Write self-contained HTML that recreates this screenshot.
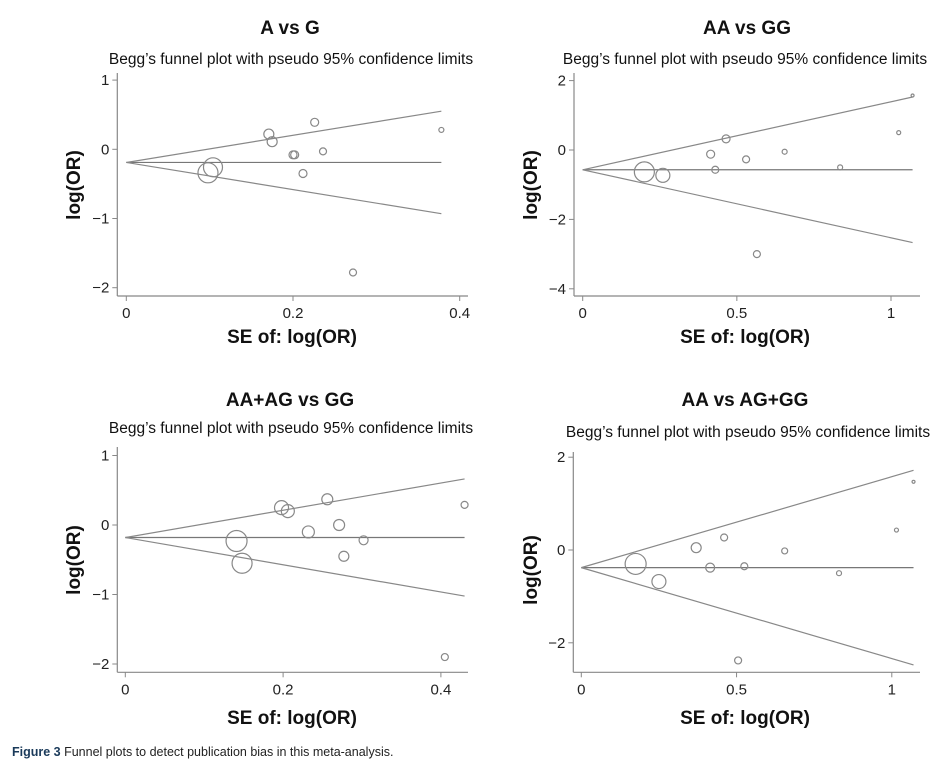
<!DOCTYPE html>
<html><head><meta charset="utf-8"><style>
body{margin:0;background:#fff;width:943px;height:764px;overflow:hidden;font-family:"Liberation Sans",Arial,sans-serif}
svg{display:block}
</style></head><body>
<svg id="fig" width="943" height="764" xmlns="http://www.w3.org/2000/svg" font-family="Liberation Sans, Arial, sans-serif">
<text x="12" y="756" font-size="12.5" fill="#222"><tspan font-weight="bold" fill="#1a3a5a">Figure 3</tspan> Funnel plots to detect publication bias in this meta-analysis.</text>
</svg>
<script>
// Panel A: A vs G
const aSE  = [0.098,0.104,0.171,0.175,0.200,0.202,0.212,0.226,0.236,0.272,0.378];
const aLOR = [-0.34,-0.26,0.22,0.11,-0.08,-0.08,-0.35,0.39,-0.03,-1.78,0.28];
const aWeight = [10,9.5,5,5,4,4,4,4,3.5,3.5,2.5];
const aPooled = -0.19;
const aXTicks = [0,0.2,0.4];
const aYTicks = [1,0,-1,-2];
// Panel B: AA vs GG
const bSE  = [0.20,0.26,0.415,0.43,0.465,0.53,0.565,0.655,0.835,1.025,1.07];
const bLOR = [-0.63,-0.73,-0.12,-0.57,0.32,-0.27,-3.0,-0.05,-0.5,0.5,1.57];
const bWeight = [10,7,4,3.5,4,3.5,3.5,2.5,2.5,2,1.5];
const bPooled = -0.57;
const bXTicks = [0,0.5,1];
const bYTicks = [2,0,-2,-4];
// Panel C: AA+AG vs GG
const cSE  = [0.141,0.148,0.198,0.206,0.232,0.256,0.271,0.277,0.302,0.405,0.430];
const cLOR = [-0.23,-0.55,0.25,0.20,-0.10,0.37,0.00,-0.45,-0.22,-1.90,0.29];
const cWeight = [10.5,10,7,6.5,6,5.5,5.5,5,4.5,3.5,3.5];
const cPooled = -0.18;
const cXTicks = [0,0.2,0.4];
const cYTicks = [1,0,-1,-2];
// Panel D: AA vs AG+GG
const dSE  = [0.175,0.25,0.37,0.415,0.46,0.525,0.505,0.655,0.83,1.015,1.07];
const dLOR = [-0.30,-0.68,0.05,-0.38,0.27,-0.35,-2.38,-0.02,-0.5,0.43,1.47];
const dWeight = [10.5,7,5,4.5,3.5,3.5,3.5,3,2.5,2,1.5];
const dPooled = -0.38;
const dXTicks = [0,0.5,1];
const dYTicks = [2,0,-2];

const NS="http://www.w3.org/2000/svg";
const svg=document.getElementById('fig');
function mk(tag,attrs,parent){const e=document.createElementNS(NS,tag);for(const k in attrs)e.setAttribute(k,attrs[k]);(parent||svg).appendChild(e);return e;}

const panels=[
 {key:'a',title:'A vs G',tx:290,ty:34,sx:291,sy:64,se:aSE,lor:aLOR,w:aWeight,pooled:aPooled,xt:aXTicks,yt:aYTicks,
  x0:126.3,xs:833.5,y0:149.3,ys:69.2,axX:117.3,axY:296,yTop:73,xEnd:468,xMax:0.378,xlabY:343,ylabX:80,ylabY:185},
 {key:'b',title:'AA vs GG',tx:747,ty:34,sx:745,sy:64,se:bSE,lor:bLOR,w:bWeight,pooled:bPooled,xt:bXTicks,yt:bYTicks,
  x0:582.7,xs:308.3,y0:150,ys:34.7,axX:574,axY:296,yTop:73,xEnd:920,xMax:1.07,xlabY:343,ylabX:537,ylabY:185},
 {key:'c',title:'AA+AG vs GG',tx:290,ty:406,sx:291,sy:433,se:cSE,lor:cLOR,w:cWeight,pooled:cPooled,xt:cXTicks,yt:cYTicks,
  x0:125.3,xs:789,y0:525,ys:69.5,axX:117.3,axY:672.3,yTop:447,xEnd:468,xMax:0.43,xlabY:724,ylabX:80,ylabY:560},
 {key:'d',title:'AA vs AG+GG',tx:745,ty:406,sx:748,sy:437,se:dSE,lor:dLOR,w:dWeight,pooled:dPooled,xt:dXTicks,yt:dYTicks,
  x0:581.3,xs:310.5,y0:550,ys:46.4,axX:573.3,axY:672.3,yTop:452,xEnd:920,xMax:1.07,xlabY:724,ylabX:537,ylabY:570}
];

panels.forEach(p=>{
 const g=mk('g',{});
 
 
 const X=v=>p.x0+v*p.xs, Y=v=>p.y0-v*p.ys;
 let t=mk('text',{x:p.tx,y:p.ty,'font-size':19,'font-weight':'bold','text-anchor':'middle',fill:'#111'},g);t.textContent=p.title;
 
 
 t=mk('text',{x:p.sx,y:p.sy,'font-size':15.5,'text-anchor':'middle',fill:'#111'},g);t.textContent='Begg\u2019s funnel plot with pseudo 95% confidence limits';
 
 
 let l=mk('line',{x1:p.axX,y1:p.yTop,x2:p.axX,y2:p.axY,stroke:'#888','stroke-width':1.2},g);
 
 
 l=mk('line',{x1:p.axX,y1:p.axY,x2:p.xEnd,y2:p.axY,stroke:'#888','stroke-width':1.2},g);
 
 
 p.yt.forEach(v=>{
  mk('line',{x1:p.axX-5,y1:Y(v),x2:p.axX,y2:Y(v),stroke:'#888'},g);
  const tt=mk('text',{x:p.axX-8,y:Y(v)+5,'font-size':15,'text-anchor':'end',fill:'#222'},g);
  tt.textContent=v<0?'\u2212'+(-v):String(v);
  
  
 });
 p.xt.forEach(v=>{
  mk('line',{x1:X(v),y1:p.axY,x2:X(v),y2:p.axY+5,stroke:'#888'},g);
  const tt=mk('text',{x:X(v),y:p.axY+22,'font-size':15,'text-anchor':'middle',fill:'#222'},g);
  tt.textContent=String(v);
  
  
 });
 t=mk('text',{x:(p.key==='a'||p.key==='c')?292:745,y:p.xlabY,'font-size':19,'font-weight':'bold','text-anchor':'middle',fill:'#111'},g);t.textContent='SE of: log(OR)';
 
 
 t=mk('text',{x:p.ylabX,y:p.ylabY,'font-size':19,'font-weight':'bold','text-anchor':'middle',fill:'#111',transform:`rotate(-90 ${p.ylabX} ${p.ylabY})`},g);t.textContent='log(OR)';
 
 
 l=mk('line',{x1:X(0),y1:Y(p.pooled),x2:X(p.xMax),y2:Y(p.pooled),stroke:'#777','stroke-width':1.2},g);
 
 
 l=mk('line',{x1:X(0),y1:Y(p.pooled),x2:X(p.xMax),y2:Y(p.pooled+1.96*p.xMax),stroke:'#888','stroke-width':1.2},g);
 
 
 l=mk('line',{x1:X(0),y1:Y(p.pooled),x2:X(p.xMax),y2:Y(p.pooled-1.96*p.xMax),stroke:'#888','stroke-width':1.2},g);
 
 
 p.se.forEach((s,i)=>{
  const c=mk('circle',{cx:X(s),cy:Y(p.lor[i]),r:p.w[i],fill:'none',stroke:'#888','stroke-width':1.2},g);
  
  
 });
});
</script>
</body></html>
